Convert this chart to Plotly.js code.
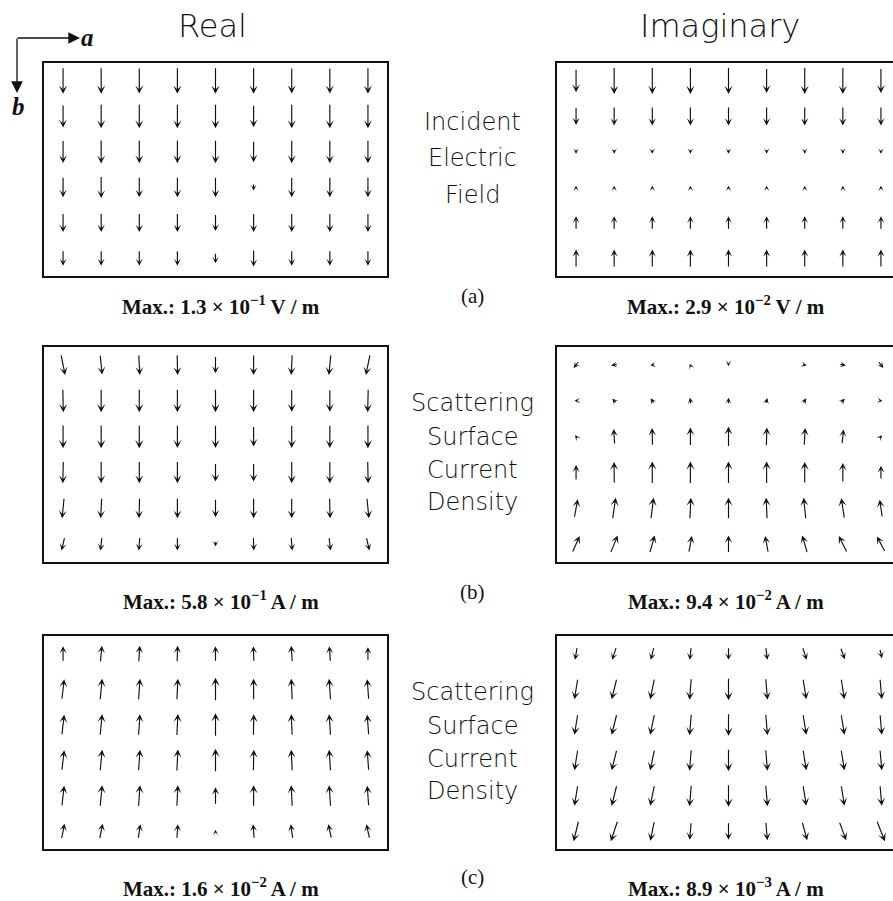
<!DOCTYPE html>
<html>
<head>
<meta charset="utf-8">
<script src="https://cdn.plot.ly/plotly-3.0.1.min.js"></script>
<style>
  html, body { margin: 0; padding: 0; overflow: hidden; background: #fff; }
  #chart { width: 905px; height: 901px; }
</style>
</head>
<body>
<div id="chart"></div>
<script>
// Sample grid: 9 points along a, 6 points along b
const aPos = [1, 2, 3, 4, 5, 6, 7, 8, 9];
const bPos = [1, 2, 3, 4, 5, 6];

// (a) Incident electric field, real part, components along a and b (V/m)
const incReA = [
  [0, 0, 0, 0, 0, 0, 0, 0, 0],
  [0, 0, 0, 0, 0, 0, 0, 0, 0],
  [0, 0, 0, 0, 0, 0, 0, 0, 0],
  [0, 0, 0, 0, 0, 0, 0, 0, 0],
  [0, 0, 0, 0, 0, 0, 0, 0, 0],
  [0, 0, 0, 0, 0, 0, 0, 0, 0]
];
const incReB = [
  [0.130, 0.130, 0.128, 0.130, 0.130, 0.130, 0.127, 0.128, 0.130],
  [0.112, 0.120, 0.120, 0.120, 0.120, 0.110, 0.120, 0.120, 0.120],
  [0.112, 0.117, 0.115, 0.115, 0.115, 0.105, 0.115, 0.115, 0.115],
  [0.100, 0.108, 0.100, 0.100, 0.100, 0.033, 0.100, 0.100, 0.100],
  [0.092, 0.092, 0.092, 0.092, 0.083, 0.092, 0.092, 0.092, 0.092],
  [0.075, 0.075, 0.075, 0.075, 0.050, 0.083, 0.075, 0.075, 0.075]
];

// (a) Incident electric field, imaginary part (V/m)
const incImA = [
  [0, 0, 0, 0, 0, 0, 0, 0, 0],
  [0, 0, 0, 0, 0, 0, 0, 0, 0],
  [0, 0, 0, 0, 0, 0, 0, 0, 0],
  [0, 0, 0, 0, 0, 0, 0, 0, 0],
  [0, 0, 0, 0, 0, 0, 0, 0, 0],
  [0, 0, 0, 0, 0, 0, 0, 0, 0]
];
const incImB = [
  [0.025, 0.029, 0.029, 0.029, 0.029, 0.027, 0.029, 0.029, 0.027],
  [0.019, 0.020, 0.020, 0.020, 0.020, 0.020, 0.020, 0.020, 0.020],
  [0.0045, 0.0045, 0.0045, 0.0045, 0.0045, 0.0045, 0.0045, 0.0045, 0.0045],
  [-0.0033, -0.0033, -0.0033, -0.0033, -0.0033, -0.0033, -0.0033, -0.0033, -0.0033],
  [-0.014, -0.014, -0.014, -0.014, -0.014, -0.014, -0.014, -0.014, -0.014],
  [-0.019, -0.019, -0.019, -0.019, -0.019, -0.019, -0.019, -0.019, -0.019]
];

// (b) Scattering surface current density, real part (A/m)
const scbReA = [
  [0.100, 0.050, 0.025, 0.012, 0, 0, -0.025, -0.050, -0.100],
  [0.012, 0, 0, 0, 0, 0, 0, 0, -0.012],
  [0, 0, 0, 0, 0, 0, 0, 0, 0],
  [-0.012, 0, 0, 0, 0, 0, 0, 0, 0.012],
  [-0.050, -0.025, -0.012, 0, 0, 0, 0, 0.012, 0.050],
  [-0.075, -0.037, -0.025, 0, 0, 0.012, 0.025, 0.037, 0.075]
];
const scbReB = [
  [0.50, 0.48, 0.50, 0.50, 0.42, 0.50, 0.50, 0.50, 0.50],
  [0.57, 0.57, 0.57, 0.57, 0.57, 0.57, 0.55, 0.55, 0.57],
  [0.58, 0.58, 0.58, 0.57, 0.57, 0.50, 0.57, 0.57, 0.58],
  [0.54, 0.54, 0.54, 0.54, 0.45, 0.45, 0.54, 0.54, 0.54],
  [0.50, 0.50, 0.50, 0.50, 0.45, 0.50, 0.50, 0.50, 0.50],
  [0.32, 0.32, 0.32, 0.32, 0.12, 0.32, 0.32, 0.32, 0.32]
];

// (b) Scattering surface current density, imaginary part (A/m)
const scbImA = [
  [-0.021, -0.026, -0.017, -0.004, 0, 0.001, 0.017, 0.026, 0.021],
  [-0.013, -0.017, -0.013, -0.004, 0, 0.006, 0.013, 0.017, 0.013],
  [-0.009, -0.004, -0.002, 0, 0, 0.002, 0.004, 0.006, 0.009],
  [0, -0.001, 0, 0, 0, 0, 0, 0, 0],
  [0.014, 0.013, 0.011, 0.004, 0, -0.004, -0.009, -0.013, -0.011],
  [0.030, 0.030, 0.021, 0.013, 0, -0.013, -0.021, -0.034, -0.034]
];
const scbImB = [
  [0.026, 0.006, 0.002, -0.011, 0.011, -0.006, 0.004, 0.006, 0.026],
  [0.001, -0.017, -0.021, -0.026, -0.026, -0.023, -0.021, -0.017, 0.002],
  [-0.011, -0.064, -0.073, -0.077, -0.085, -0.077, -0.073, -0.060, -0.011],
  [-0.064, -0.090, -0.094, -0.094, -0.094, -0.094, -0.090, -0.081, -0.056],
  [-0.077, -0.090, -0.090, -0.090, -0.090, -0.090, -0.090, -0.085, -0.073],
  [-0.068, -0.073, -0.073, -0.068, -0.073, -0.068, -0.073, -0.068, -0.064]
];

// (c) Scattering surface current density, real part (A/m)
const sccReA = [
  [0, 0.0010, 0.0007, 0.0003, 0, -0.0003, -0.0007, -0.0007, 0],
  [0.0016, 0.0014, 0.0010, 0.0007, 0, 0, -0.0007, -0.0010, -0.0010],
  [0.0016, 0.0014, 0.0010, 0.0007, 0, 0.0003, -0.0007, -0.0010, -0.0010],
  [0.0016, 0.0014, 0.0010, 0.0007, 0, 0.0003, -0.0007, -0.0010, -0.0010],
  [0.0016, 0.0014, 0.0010, 0.0007, 0, 0, -0.0007, -0.0010, -0.0010],
  [0.0021, 0.0021, 0.0014, 0.0007, 0, -0.0007, -0.0014, -0.0021, -0.0021]
];
const sccReB = [
  [-0.0104, -0.0111, -0.0111, -0.0111, -0.0104, -0.0104, -0.0111, -0.0104, -0.0090],
  [-0.0139, -0.0146, -0.0146, -0.0146, -0.0160, -0.0146, -0.0146, -0.0146, -0.0139],
  [-0.0139, -0.0146, -0.0146, -0.0150, -0.0160, -0.0146, -0.0146, -0.0146, -0.0139],
  [-0.0139, -0.0146, -0.0146, -0.0150, -0.0160, -0.0146, -0.0146, -0.0146, -0.0139],
  [-0.0139, -0.0146, -0.0146, -0.0146, -0.0118, -0.0146, -0.0146, -0.0146, -0.0139],
  [-0.0104, -0.0104, -0.0097, -0.0097, -0.0021, -0.0097, -0.0097, -0.0097, -0.0097]
];

// (c) Scattering surface current density, imaginary part (A/m)
const sccImA = [
  [-0.0008, -0.0016, -0.0012, -0.0006, 0, 0.0006, 0.0016, 0.0016, 0.0008],
  [-0.0013, -0.0020, -0.0017, -0.0007, 0, 0.0007, 0.0013, 0.0013, 0.0007],
  [-0.0013, -0.0020, -0.0017, -0.0007, 0, 0.0007, 0.0013, 0.0013, 0.0007],
  [-0.0013, -0.0020, -0.0017, -0.0007, 0, 0.0007, 0.0013, 0.0013, 0.0007],
  [-0.0013, -0.0020, -0.0017, -0.0007, 0, 0.0007, 0.0013, 0.0013, 0.0007],
  [-0.0020, -0.0027, -0.0016, -0.0006, 0, 0.0006, 0.0020, 0.0027, 0.0032]
];
const sccImB = [
  [0.0049, 0.0049, 0.0049, 0.0049, 0.0049, 0.0049, 0.0049, 0.0045, 0.0036],
  [0.0081, 0.0081, 0.0081, 0.0085, 0.0089, 0.0085, 0.0081, 0.0081, 0.0081],
  [0.0081, 0.0081, 0.0081, 0.0085, 0.0089, 0.0085, 0.0081, 0.0081, 0.0081],
  [0.0081, 0.0081, 0.0081, 0.0085, 0.0089, 0.0085, 0.0081, 0.0081, 0.0081],
  [0.0081, 0.0081, 0.0081, 0.0085, 0.0089, 0.0085, 0.0081, 0.0081, 0.0081],
  [0.0081, 0.0081, 0.0077, 0.0069, 0.0069, 0.0073, 0.0073, 0.0073, 0.0081]
];

// Largest magnitude in each panel and its unit
const panelMax = [1.3e-1, 2.9e-2, 5.8e-1, 9.4e-2, 1.6e-2, 8.9e-3];
const panelUnit = ['V / m', 'V / m', 'A / m', 'A / m', 'A / m', 'A / m'];
const columnTitles = ['Real', 'Imaginary'];
const rowLabels = [
  ['Incident', 'Electric', 'Field'],
  ['Scattering', 'Surface', 'Current', 'Density'],
  ['Scattering', 'Surface', 'Current', 'Density']
];
const rowTags = ['(a)', '(b)', '(c)'];

const vecA = [incReA, incImA, scbReA, scbImA, sccReA, sccImA];
const vecB = [incReB, incImB, scbReB, scbImB, sccReB, sccImB];

// ---- layout geometry (pixels) ----
const W = 905, H = 901;
const colBox = [[44, 387], [557, 900]];
const rowBox = [[63, 276], [347, 562], [636, 849]];
const arrowLenPx = [26, 26.5, 23.3, 22, 23, 22];   // drawn length of the largest vector
const px = v => v / W;
const py = v => 1 - v / H;

const thinSans = { family: '"DejaVu Sans", sans-serif', weight: 200, color: '#111' };
const serif = { family: '"Liberation Serif", "Times New Roman", serif', color: '#111' };

const layout = {
  width: W, height: H,
  margin: { l: 0, r: 0, t: 0, b: 0 },
  paper_bgcolor: '#fff', plot_bgcolor: '#fff',
  showlegend: false,
  annotations: [],
  shapes: []
};

const traces = [];
for (let p = 0; p < 6; p++) {
  const r = Math.floor(p / 2), c = p % 2;
  const k = p + 1, sfx = k === 1 ? '' : String(k);
  const axStyle = {
    showline: true, mirror: true, linecolor: '#111', linewidth: 1.6,
    showgrid: false, zeroline: false, ticks: '', showticklabels: false, fixedrange: true
  };
  layout['xaxis' + sfx] = Object.assign({}, axStyle, {
    domain: [px(colBox[c][0]), px(colBox[c][1])], range: [0.5, 9.5], anchor: 'y' + sfx
  });
  layout['yaxis' + sfx] = Object.assign({}, axStyle, {
    domain: [py(rowBox[r][1]), py(rowBox[r][0])], range: [6.5, 0.5], anchor: 'x' + sfx
  });
  // invisible trace keeps the subplot alive
  traces.push({ type: 'scatter', x: [], y: [], xaxis: 'x' + sfx, yaxis: 'y' + sfx, hoverinfo: 'skip' });

  // vectors, centred on their grid point, scaled so the panel maximum has arrowLenPx
  const s = arrowLenPx[p] / panelMax[p];
  bPos.forEach((bv, i) => {
    aPos.forEach((av, j) => {
      const ua = vecA[p][i][j], ub = vecB[p][i][j];
      const mag = Math.hypot(ua, ub);
      if (mag === 0) return;
      const vx = ua * s, vy = ub * s;
      const frac = mag / panelMax[p];
      layout.annotations.push({
        xref: 'x' + sfx, yref: 'y' + sfx, x: av, y: bv, text: '',
        font: { size: 1 }, borderpad: 0,
        showarrow: true, arrowhead: 3, arrowsize: 0.72 + 0.48 * frac, arrowwidth: 1.15,
        arrowcolor: '#111', ax: -vx, ay: -vy, axref: 'pixel', ayref: 'pixel',
        xshift: vx / 2, yshift: -vy / 2, standoff: 0, startstandoff: 0
      });
    });
  });

  // "Max.: m × 10^e unit" caption
  const e = Math.floor(Math.log10(panelMax[p]) + 1e-9);
  const m = (panelMax[p] / Math.pow(10, e)).toFixed(1);
  const capY = [305, 600, 887][r];
  const capX = [221, 726][c];
  layout.annotations.push({
    xref: 'paper', yref: 'paper', x: px(capX), y: py(capY), xanchor: 'center', yanchor: 'middle',
    showarrow: false,
    text: 'Max.: ' + m + ' × 10<sup>\u2212' + Math.abs(e) + '</sup> ' + panelUnit[p],
    font: Object.assign({}, serif, { size: 21, weight: 700 })
  });
}

// column titles
[[212, 26], [720, 26]].forEach((pt, c) => {
  layout.annotations.push({
    xref: 'paper', yref: 'paper', x: px(pt[0]), y: py(pt[1]), xanchor: 'center', yanchor: 'middle',
    showarrow: false, text: columnTitles[c], font: Object.assign({}, thinSans, { size: 32 })
  });
});

// quantity labels between the columns
const labelLineY = [[120, 156, 193], [401, 435, 468, 500], [690, 724, 757, 789]];
rowLabels.forEach((lines, r) => {
  lines.forEach((t, i) => {
    layout.annotations.push({
      xref: 'paper', yref: 'paper', x: px(472), y: py(labelLineY[r][i] + 2), xanchor: 'center', yanchor: 'middle',
      showarrow: false, text: t, font: Object.assign({}, thinSans, { size: 24 })
    });
  });
});

// (a) (b) (c)
[296, 592, 877].forEach((yy, r) => {
  layout.annotations.push({
    xref: 'paper', yref: 'paper', x: px(473), y: py(yy), xanchor: 'center', yanchor: 'middle',
    showarrow: false, text: rowTags[r], font: Object.assign({}, serif, { size: 21 })
  });
});

// coordinate directions a (right) and b (down)
layout.annotations.push({
  xref: 'paper', yref: 'paper', x: px(80), y: py(38), text: '', font: { size: 1 }, borderpad: 0,
  showarrow: true, arrowhead: 2, arrowsize: 1.8, arrowwidth: 1.3, arrowcolor: '#111', ax: -63, ay: 0, standoff: 0
});
layout.annotations.push({
  xref: 'paper', yref: 'paper', x: px(17), y: py(93), text: '', font: { size: 1 }, borderpad: 0,
  showarrow: true, arrowhead: 2, arrowsize: 1.8, arrowwidth: 1.3, arrowcolor: '#111', ax: 0, ay: -55, standoff: 0
});
layout.annotations.push({
  xref: 'paper', yref: 'paper', x: px(87), y: py(37), xanchor: 'center', yanchor: 'middle', showarrow: false,
  text: '<b><i>a</i></b>', font: Object.assign({}, serif, { size: 25 })
});
layout.annotations.push({
  xref: 'paper', yref: 'paper', x: px(18), y: py(106), xanchor: 'center', yanchor: 'middle', showarrow: false,
  text: '<b><i>b</i></b>', font: Object.assign({}, serif, { size: 25 })
});

Plotly.newPlot('chart', traces, layout, { staticPlot: true, displayModeBar: false });
</script>
</body>
</html>
